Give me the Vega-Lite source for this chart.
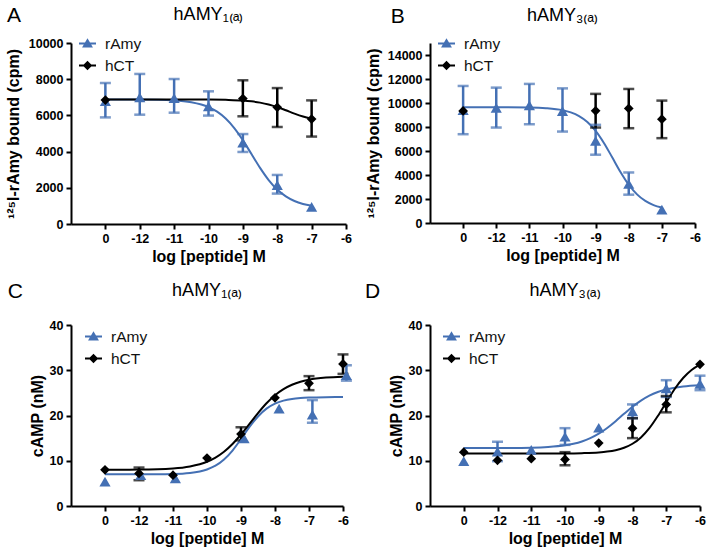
{
  "$schema": "https://vega.github.io/schema/vega-lite/v6.json",
  "padding": {"left": 5, "top": 5, "right": 5, "bottom": 0},
  "columns": 2,
  "spacing": {"row": 16, "column": 13},
  "resolve": {"scale": {"color": "independent", "shape": "independent"}, "legend": {"color": "independent", "shape": "independent"}},
  "config": {
    "font": "Liberation Sans",
    "view": {"stroke": null},
    "axis": {"domainColor": "black", "domainWidth": 2, "tickColor": "black", "tickWidth": 2, "tickSize": 5, "labelFont": "Liberation Sans", "labelFontWeight": "bold", "labelFontSize": 12.5, "labelColor": "black", "labelPadding": 3, "titleFont": "Liberation Sans", "titleFontWeight": "bold", "titleFontSize": 16, "titleColor": "black", "grid": false, "labelFlush": false, "labelOverlap": false},
    "axisX": {"labelExpr": "datum.value == -13 ? '0' : '-' + abs(datum.value)"},
    "axisY": {"format": "d"},
    "title": {"font": "Liberation Sans", "fontSize": 18, "fontWeight": "normal", "color": "black", "offset": -19},
    "legend": {"orient": "none", "title": null, "symbolSize": 289, "symbolOpacity": 1, "symbolStrokeWidth": 0, "labelFontSize": 15.5, "labelFont": "Liberation Sans", "labelColor": "#111", "rowPadding": 5, "labelOffset": 9, "padding": 0}
  },
  "datasets": {
    "pts": [
      {"p": "A", "s": "rAmy", "x": -13, "y": 6780, "lo": 5890, "hi": 7790},
      {"p": "A", "s": "rAmy", "x": -12, "y": 7000, "lo": 6040, "hi": 8290},
      {"p": "A", "s": "rAmy", "x": -11, "y": 6950, "lo": 6150, "hi": 8010},
      {"p": "A", "s": "rAmy", "x": -10, "y": 6500, "lo": 5990, "hi": 7330},
      {"p": "A", "s": "rAmy", "x": -9, "y": 4500, "lo": 3980, "hi": 4970},
      {"p": "A", "s": "rAmy", "x": -8, "y": 2150, "lo": 1680, "hi": 2710},
      {"p": "A", "s": "rAmy", "x": -7, "y": 950},
      {"p": "A", "s": "hCT", "x": -13, "y": 6850},
      {"p": "A", "s": "hCT", "x": -9, "y": 6930, "lo": 5950, "hi": 7940},
      {"p": "A", "s": "hCT", "x": -8, "y": 6450, "lo": 5360, "hi": 7510},
      {"p": "A", "s": "hCT", "x": -7, "y": 5800, "lo": 4830, "hi": 6830},
      {"p": "B", "s": "rAmy", "x": -13, "y": 9410, "lo": 7400, "hi": 11420},
      {"p": "B", "s": "rAmy", "x": -12, "y": 9600, "lo": 7955, "hi": 11280},
      {"p": "B", "s": "rAmy", "x": -11, "y": 9800, "lo": 8230, "hi": 11590},
      {"p": "B", "s": "rAmy", "x": -10, "y": 9330, "lo": 7620, "hi": 11220},
      {"p": "B", "s": "rAmy", "x": -9, "y": 6850, "lo": 5690, "hi": 8180},
      {"p": "B", "s": "rAmy", "x": -8, "y": 3250, "lo": 2360, "hi": 4210},
      {"p": "B", "s": "rAmy", "x": -7, "y": 1110},
      {"p": "B", "s": "hCT", "x": -13, "y": 9340},
      {"p": "B", "s": "hCT", "x": -9, "y": 9350, "lo": 7955, "hi": 10760},
      {"p": "B", "s": "hCT", "x": -8, "y": 9550, "lo": 7900, "hi": 11170},
      {"p": "B", "s": "hCT", "x": -7, "y": 8650, "lo": 7070, "hi": 10200},
      {"p": "C", "s": "rAmy", "x": -13, "y": 5.4},
      {"p": "C", "s": "rAmy", "x": -11.95, "y": 6.8},
      {"p": "C", "s": "rAmy", "x": -10.93, "y": 6.1},
      {"p": "C", "s": "rAmy", "x": -8.91, "y": 14.95},
      {"p": "C", "s": "rAmy", "x": -7.88, "y": 21.5},
      {"p": "C", "s": "rAmy", "x": -6.9, "y": 20.2, "lo": 18.4, "hi": 23.4},
      {"p": "C", "s": "rAmy", "x": -5.9, "y": 28.9, "lo": 27.7, "hi": 31.1},
      {"p": "C", "s": "hCT", "x": -13, "y": 8.0},
      {"p": "C", "s": "hCT", "x": -12, "y": 7.2, "lo": 5.7, "hi": 8.5},
      {"p": "C", "s": "hCT", "x": -11, "y": 6.8},
      {"p": "C", "s": "hCT", "x": -10, "y": 10.6},
      {"p": "C", "s": "hCT", "x": -9, "y": 15.9, "lo": 14.5, "hi": 17.4},
      {"p": "C", "s": "hCT", "x": -8, "y": 23.9},
      {"p": "C", "s": "hCT", "x": -7, "y": 27.1, "lo": 25.6, "hi": 28.7},
      {"p": "C", "s": "hCT", "x": -6, "y": 31.4, "lo": 29.2, "hi": 33.5},
      {"p": "D", "s": "rAmy", "x": -13, "y": 9.9},
      {"p": "D", "s": "rAmy", "x": -12, "y": 12.0, "lo": 9.9, "hi": 14.2},
      {"p": "D", "s": "rAmy", "x": -11, "y": 12.4},
      {"p": "D", "s": "rAmy", "x": -10, "y": 15.3, "lo": 13.5, "hi": 17.2},
      {"p": "D", "s": "rAmy", "x": -9, "y": 17.3},
      {"p": "D", "s": "rAmy", "x": -8, "y": 20.9, "lo": 19.4, "hi": 22.45},
      {"p": "D", "s": "rAmy", "x": -7, "y": 26.0, "lo": 24.1, "hi": 27.8},
      {"p": "D", "s": "rAmy", "x": -6, "y": 27.0, "lo": 25.6, "hi": 28.8},
      {"p": "D", "s": "hCT", "x": -13, "y": 11.9},
      {"p": "D", "s": "hCT", "x": -12, "y": 10.1},
      {"p": "D", "s": "hCT", "x": -11, "y": 10.45},
      {"p": "D", "s": "hCT", "x": -10, "y": 10.3, "lo": 9.0, "hi": 11.9},
      {"p": "D", "s": "hCT", "x": -9, "y": 13.9},
      {"p": "D", "s": "hCT", "x": -8, "y": 17.2, "lo": 15.0, "hi": 19.4},
      {"p": "D", "s": "hCT", "x": -7, "y": 22.45, "lo": 20.7, "hi": 24.3},
      {"p": "D", "s": "hCT", "x": -6, "y": 31.3}
    ],
    "crv": [
      {"p": "A", "s": "rAmy", "x": -13, "y": 6880}, {"p": "A", "s": "rAmy", "x": -12, "y": 6873}, {"p": "A", "s": "rAmy", "x": -11, "y": 6823}, {"p": "A", "s": "rAmy", "x": -10.5, "y": 6724}, {"p": "A", "s": "rAmy", "x": -10, "y": 6459}, {"p": "A", "s": "rAmy", "x": -9.75, "y": 6206}, {"p": "A", "s": "rAmy", "x": -9.5, "y": 5828}, {"p": "A", "s": "rAmy", "x": -9.25, "y": 5301}, {"p": "A", "s": "rAmy", "x": -9, "y": 4629}, {"p": "A", "s": "rAmy", "x": -8.75, "y": 3865}, {"p": "A", "s": "rAmy", "x": -8.5, "y": 3101}, {"p": "A", "s": "rAmy", "x": -8.25, "y": 2429}, {"p": "A", "s": "rAmy", "x": -8, "y": 1902}, {"p": "A", "s": "rAmy", "x": -7.75, "y": 1524}, {"p": "A", "s": "rAmy", "x": -7.5, "y": 1271}, {"p": "A", "s": "rAmy", "x": -7.25, "y": 1108}, {"p": "A", "s": "rAmy", "x": -7, "y": 1006},
      {"p": "A", "s": "hCT", "x": -13, "y": 6880}, {"p": "A", "s": "hCT", "x": -11, "y": 6879}, {"p": "A", "s": "hCT", "x": -10, "y": 6874}, {"p": "A", "s": "hCT", "x": -9.5, "y": 6860}, {"p": "A", "s": "hCT", "x": -9, "y": 6822}, {"p": "A", "s": "hCT", "x": -8.75, "y": 6776}, {"p": "A", "s": "hCT", "x": -8.5, "y": 6706}, {"p": "A", "s": "hCT", "x": -8.25, "y": 6601}, {"p": "A", "s": "hCT", "x": -8, "y": 6456}, {"p": "A", "s": "hCT", "x": -7.75, "y": 6282}, {"p": "A", "s": "hCT", "x": -7.5, "y": 6101}, {"p": "A", "s": "hCT", "x": -7.25, "y": 5943}, {"p": "A", "s": "hCT", "x": -7, "y": 5822},
      {"p": "B", "s": "rAmy", "x": -13, "y": 9650}, {"p": "B", "s": "rAmy", "x": -12, "y": 9647}, {"p": "B", "s": "rAmy", "x": -11, "y": 9625}, {"p": "B", "s": "rAmy", "x": -10.5, "y": 9570}, {"p": "B", "s": "rAmy", "x": -10, "y": 9402}, {"p": "B", "s": "rAmy", "x": -9.75, "y": 9218}, {"p": "B", "s": "rAmy", "x": -9.5, "y": 8912}, {"p": "B", "s": "rAmy", "x": -9.25, "y": 8419}, {"p": "B", "s": "rAmy", "x": -9, "y": 7680}, {"p": "B", "s": "rAmy", "x": -8.75, "y": 6673}, {"p": "B", "s": "rAmy", "x": -8.5, "y": 5475}, {"p": "B", "s": "rAmy", "x": -8.25, "y": 4252}, {"p": "B", "s": "rAmy", "x": -8, "y": 3189}, {"p": "B", "s": "rAmy", "x": -7.75, "y": 2384}, {"p": "B", "s": "rAmy", "x": -7.5, "y": 1837}, {"p": "B", "s": "rAmy", "x": -7.25, "y": 1491}, {"p": "B", "s": "rAmy", "x": -7, "y": 1284},
      {"p": "C", "s": "rAmy", "x": -13, "y": 7.0}, {"p": "C", "s": "rAmy", "x": -12, "y": 7.01}, {"p": "C", "s": "rAmy", "x": -11, "y": 7.09}, {"p": "C", "s": "rAmy", "x": -10.5, "y": 7.31}, {"p": "C", "s": "rAmy", "x": -10, "y": 8.07}, {"p": "C", "s": "rAmy", "x": -9.75, "y": 8.9}, {"p": "C", "s": "rAmy", "x": -9.5, "y": 10.27}, {"p": "C", "s": "rAmy", "x": -9.25, "y": 12.26}, {"p": "C", "s": "rAmy", "x": -9, "y": 14.79}, {"p": "C", "s": "rAmy", "x": -8.75, "y": 17.47}, {"p": "C", "s": "rAmy", "x": -8.5, "y": 19.79}, {"p": "C", "s": "rAmy", "x": -8.25, "y": 21.51}, {"p": "C", "s": "rAmy", "x": -8, "y": 22.62}, {"p": "C", "s": "rAmy", "x": -7.75, "y": 23.28}, {"p": "C", "s": "rAmy", "x": -7.5, "y": 23.66}, {"p": "C", "s": "rAmy", "x": -7.25, "y": 23.86}, {"p": "C", "s": "rAmy", "x": -7, "y": 23.97}, {"p": "C", "s": "rAmy", "x": -6.5, "y": 24.06}, {"p": "C", "s": "rAmy", "x": -6, "y": 24.08},
      {"p": "C", "s": "hCT", "x": -13, "y": 8.01}, {"p": "C", "s": "hCT", "x": -12, "y": 8.05}, {"p": "C", "s": "hCT", "x": -11, "y": 8.3}, {"p": "C", "s": "hCT", "x": -10.5, "y": 8.74}, {"p": "C", "s": "hCT", "x": -10, "y": 9.77}, {"p": "C", "s": "hCT", "x": -9.75, "y": 10.69}, {"p": "C", "s": "hCT", "x": -9.5, "y": 11.97}, {"p": "C", "s": "hCT", "x": -9.25, "y": 13.69}, {"p": "C", "s": "hCT", "x": -9, "y": 15.8}, {"p": "C", "s": "hCT", "x": -8.75, "y": 18.16}, {"p": "C", "s": "hCT", "x": -8.5, "y": 20.53}, {"p": "C", "s": "hCT", "x": -8.25, "y": 22.7}, {"p": "C", "s": "hCT", "x": -8, "y": 24.48}, {"p": "C", "s": "hCT", "x": -7.75, "y": 25.83}, {"p": "C", "s": "hCT", "x": -7.5, "y": 26.8}, {"p": "C", "s": "hCT", "x": -7.25, "y": 27.47}, {"p": "C", "s": "hCT", "x": -7, "y": 27.91}, {"p": "C", "s": "hCT", "x": -6.5, "y": 28.38}, {"p": "C", "s": "hCT", "x": -6, "y": 28.57},
      {"p": "D", "s": "rAmy", "x": -13, "y": 12.8}, {"p": "D", "s": "rAmy", "x": -12, "y": 12.82}, {"p": "D", "s": "rAmy", "x": -11, "y": 12.9}, {"p": "D", "s": "rAmy", "x": -10.5, "y": 13.05}, {"p": "D", "s": "rAmy", "x": -10, "y": 13.42}, {"p": "D", "s": "rAmy", "x": -9.75, "y": 13.76}, {"p": "D", "s": "rAmy", "x": -9.5, "y": 14.26}, {"p": "D", "s": "rAmy", "x": -9.25, "y": 14.99}, {"p": "D", "s": "rAmy", "x": -9, "y": 15.98}, {"p": "D", "s": "rAmy", "x": -8.75, "y": 17.25}, {"p": "D", "s": "rAmy", "x": -8.5, "y": 18.75}, {"p": "D", "s": "rAmy", "x": -8.25, "y": 20.37}, {"p": "D", "s": "rAmy", "x": -8, "y": 21.93}, {"p": "D", "s": "rAmy", "x": -7.75, "y": 23.29}, {"p": "D", "s": "rAmy", "x": -7.5, "y": 24.39}, {"p": "D", "s": "rAmy", "x": -7.25, "y": 25.2}, {"p": "D", "s": "rAmy", "x": -7, "y": 25.78}, {"p": "D", "s": "rAmy", "x": -6.5, "y": 26.43}, {"p": "D", "s": "rAmy", "x": -6, "y": 26.71},
      {"p": "D", "s": "hCT", "x": -13, "y": 11.6}, {"p": "D", "s": "hCT", "x": -11, "y": 11.6}, {"p": "D", "s": "hCT", "x": -10, "y": 11.62}, {"p": "D", "s": "hCT", "x": -9.5, "y": 11.68}, {"p": "D", "s": "hCT", "x": -9, "y": 11.84}, {"p": "D", "s": "hCT", "x": -8.75, "y": 12.02}, {"p": "D", "s": "hCT", "x": -8.5, "y": 12.33}, {"p": "D", "s": "hCT", "x": -8.25, "y": 12.87}, {"p": "D", "s": "hCT", "x": -8, "y": 13.76}, {"p": "D", "s": "hCT", "x": -7.75, "y": 15.16}, {"p": "D", "s": "hCT", "x": -7.5, "y": 17.2}, {"p": "D", "s": "hCT", "x": -7.25, "y": 19.88}, {"p": "D", "s": "hCT", "x": -7, "y": 22.92}, {"p": "D", "s": "hCT", "x": -6.75, "y": 25.86}, {"p": "D", "s": "hCT", "x": -6.5, "y": 28.29}, {"p": "D", "s": "hCT", "x": -6.25, "y": 30.07}, {"p": "D", "s": "hCT", "x": -6, "y": 31.25}
    ]
  },
  "concat": [
    {
      "width": 275, "height": 181,
      "title": "hAMY₁₍ₐ₎",
      "layer": [
        {"data": {"name": "crv"}, "transform": [{"filter": "datum.p === 'A'"}], "mark": {"type": "line", "strokeWidth": 2, "interpolate": "monotone"}, "encoding": {
          "x": {"field": "x", "type": "quantitative", "scale": {"domain": [-14, -6], "nice": false, "zero": false}, "axis": {"values": [-13, -12, -11, -10, -9, -8, -7, -6]}, "title": "log [peptide] M"},
          "y": {"field": "y", "type": "quantitative", "scale": {"domain": [0, 10000], "nice": false}, "axis": {"values": [0, 2000, 4000, 6000, 8000, 10000], "titlePadding": 7}, "title": "¹²⁵I-rAmy bound (cpm)"},
          "detail": {"field": "s"}, "color": {"condition": {"test": "datum.s === 'rAmy'", "value": "#4470b4"}, "value": "black"}}},
        {"data": {"name": "pts"}, "transform": [{"filter": "datum.p === 'A' && isValid(datum.lo)"}], "mark": {"type": "rule", "strokeWidth": 2.5}, "encoding": {
          "x": {"field": "x", "type": "quantitative", "scale": {"domain": [-14, -6], "nice": false, "zero": false}, "axis": {"values": [-13, -12, -11, -10, -9, -8, -7, -6]}, "title": "log [peptide] M"},
          "y": {"field": "lo", "type": "quantitative", "scale": {"domain": [0, 10000], "nice": false}, "axis": {"values": [0, 2000, 4000, 6000, 8000, 10000], "titlePadding": 7}, "title": "¹²⁵I-rAmy bound (cpm)"}, "y2": {"field": "hi"},
          "color": {"condition": {"test": "datum.s === 'rAmy'", "value": "#4470b4"}, "value": "black"}}},
        {"data": {"name": "pts"}, "transform": [{"filter": "datum.p === 'A' && isValid(datum.lo)"}], "mark": {"type": "tick", "orient": "horizontal", "size": 11, "thickness": 2.5}, "encoding": {
          "x": {"field": "x", "type": "quantitative", "scale": {"domain": [-14, -6], "nice": false, "zero": false}, "axis": {"values": [-13, -12, -11, -10, -9, -8, -7, -6]}, "title": "log [peptide] M"},
          "y": {"field": "lo", "type": "quantitative", "scale": {"domain": [0, 10000], "nice": false}, "axis": {"values": [0, 2000, 4000, 6000, 8000, 10000], "titlePadding": 7}, "title": "¹²⁵I-rAmy bound (cpm)"},
          "color": {"condition": {"test": "datum.s === 'rAmy'", "value": "#4470b4"}, "value": "black"}}},
        {"data": {"name": "pts"}, "transform": [{"filter": "datum.p === 'A' && isValid(datum.lo)"}], "mark": {"type": "tick", "orient": "horizontal", "size": 11, "thickness": 2.5}, "encoding": {
          "x": {"field": "x", "type": "quantitative", "scale": {"domain": [-14, -6], "nice": false, "zero": false}, "axis": {"values": [-13, -12, -11, -10, -9, -8, -7, -6]}, "title": "log [peptide] M"},
          "y": {"field": "hi", "type": "quantitative", "scale": {"domain": [0, 10000], "nice": false}, "axis": {"values": [0, 2000, 4000, 6000, 8000, 10000], "titlePadding": 7}, "title": "¹²⁵I-rAmy bound (cpm)"},
          "color": {"condition": {"test": "datum.s === 'rAmy'", "value": "#4470b4"}, "value": "black"}}},
        {"data": {"name": "pts"}, "transform": [{"filter": "datum.p === 'A'"}], "mark": {"type": "point", "filled": true, "opacity": 1, "strokeWidth": 0}, "encoding": {
          "x": {"field": "x", "type": "quantitative", "scale": {"domain": [-14, -6], "nice": false, "zero": false}, "axis": {"values": [-13, -12, -11, -10, -9, -8, -7, -6]}, "title": "log [peptide] M"},
          "y": {"field": "y", "type": "quantitative", "scale": {"domain": [0, 10000], "nice": false}, "axis": {"values": [0, 2000, 4000, 6000, 8000, 10000], "titlePadding": 7}, "title": "¹²⁵I-rAmy bound (cpm)"},
          "color": {"condition": {"test": "datum.s === 'rAmy'", "value": "#4470b4"}, "value": "black"}, "shape": {"condition": {"test": "datum.s === 'rAmy'", "value": "triangle-up"}, "value": "diamond"}, "size": {"condition": {"test": "datum.s === 'rAmy'", "value": 125}, "value": 95}}},
        {"data": {"name": "pts"}, "transform": [{"filter": "datum.p === 'A'"}], "mark": {"type": "point", "filled": true, "opacity": 0}, "encoding": {
          "x": {"field": "x", "type": "quantitative", "scale": {"domain": [-14, -6], "nice": false, "zero": false}, "axis": {"values": [-13, -12, -11, -10, -9, -8, -7, -6]}, "title": "log [peptide] M"},
          "y": {"field": "y", "type": "quantitative", "scale": {"domain": [0, 10000], "nice": false}, "axis": {"values": [0, 2000, 4000, 6000, 8000, 10000], "titlePadding": 7}, "title": "¹²⁵I-rAmy bound (cpm)"},
          "color": {"field": "s", "type": "nominal", "scale": {"domain": ["rAmy", "hCT"], "range": ["#4470b4", "black"]}, "legend": {"legendX": 8, "legendY": -8}},
          "shape": {"field": "s", "type": "nominal", "scale": {"domain": ["rAmy", "hCT"], "range": ["M-1,-0.12H1V0.12H-1Z M0,-0.62L0.64,0.46L-0.64,0.46Z", "M-1,-0.12H1V0.12H-1Z M0,-0.56L0.56,0L0,0.56L-0.56,0Z"]}, "legend": {"legendX": 8, "legendY": -8}}}},
        {"data": {"values": [{"label": "A"}]}, "mark": {"type": "text", "fontSize": 21, "font": "Liberation Sans", "color": "black", "align": "center", "baseline": "middle"}, "encoding": {
          "x": {"datum": -15.66, "type": "quantitative", "scale": {"domain": [-14, -6], "nice": false, "zero": false}, "axis": {"values": [-13, -12, -11, -10, -9, -8, -7, -6]}, "title": "log [peptide] M"},
          "y": {"datum": 11475, "type": "quantitative", "scale": {"domain": [0, 10000], "nice": false}, "axis": {"values": [0, 2000, 4000, 6000, 8000, 10000], "titlePadding": 7}, "title": "¹²⁵I-rAmy bound (cpm)"},
          "text": {"field": "label", "type": "nominal"}}}
      ]
    },
    {
      "width": 265, "height": 180,
      "title": "hAMY₃₍ₐ₎",
      "layer": [
        {"data": {"name": "crv"}, "transform": [{"filter": "datum.p === 'B'"}], "mark": {"type": "line", "strokeWidth": 2, "interpolate": "monotone"}, "encoding": {
          "x": {"field": "x", "type": "quantitative", "scale": {"domain": [-14, -6], "nice": false, "zero": false}, "axis": {"values": [-13, -12, -11, -10, -9, -8, -7, -6]}, "title": "log [peptide] M"},
          "y": {"field": "y", "type": "quantitative", "scale": {"domain": [0, 15000], "nice": false}, "axis": {"values": [0, 2000, 4000, 6000, 8000, 10000, 12000, 14000], "titlePadding": 6}, "title": "¹²⁵I-rAmy bound (cpm)"},
          "detail": {"field": "s"}, "color": {"condition": {"test": "datum.s === 'rAmy'", "value": "#4470b4"}, "value": "black"}}},
        {"data": {"name": "pts"}, "transform": [{"filter": "datum.p === 'B' && isValid(datum.lo)"}], "mark": {"type": "rule", "strokeWidth": 2.5}, "encoding": {
          "x": {"field": "x", "type": "quantitative", "scale": {"domain": [-14, -6], "nice": false, "zero": false}, "axis": {"values": [-13, -12, -11, -10, -9, -8, -7, -6]}, "title": "log [peptide] M"},
          "y": {"field": "lo", "type": "quantitative", "scale": {"domain": [0, 15000], "nice": false}, "axis": {"values": [0, 2000, 4000, 6000, 8000, 10000, 12000, 14000], "titlePadding": 6}, "title": "¹²⁵I-rAmy bound (cpm)"}, "y2": {"field": "hi"},
          "color": {"condition": {"test": "datum.s === 'rAmy'", "value": "#4470b4"}, "value": "black"}}},
        {"data": {"name": "pts"}, "transform": [{"filter": "datum.p === 'B' && isValid(datum.lo)"}], "mark": {"type": "tick", "orient": "horizontal", "size": 11, "thickness": 2.5}, "encoding": {
          "x": {"field": "x", "type": "quantitative", "scale": {"domain": [-14, -6], "nice": false, "zero": false}, "axis": {"values": [-13, -12, -11, -10, -9, -8, -7, -6]}, "title": "log [peptide] M"},
          "y": {"field": "lo", "type": "quantitative", "scale": {"domain": [0, 15000], "nice": false}, "axis": {"values": [0, 2000, 4000, 6000, 8000, 10000, 12000, 14000], "titlePadding": 6}, "title": "¹²⁵I-rAmy bound (cpm)"},
          "color": {"condition": {"test": "datum.s === 'rAmy'", "value": "#4470b4"}, "value": "black"}}},
        {"data": {"name": "pts"}, "transform": [{"filter": "datum.p === 'B' && isValid(datum.lo)"}], "mark": {"type": "tick", "orient": "horizontal", "size": 11, "thickness": 2.5}, "encoding": {
          "x": {"field": "x", "type": "quantitative", "scale": {"domain": [-14, -6], "nice": false, "zero": false}, "axis": {"values": [-13, -12, -11, -10, -9, -8, -7, -6]}, "title": "log [peptide] M"},
          "y": {"field": "hi", "type": "quantitative", "scale": {"domain": [0, 15000], "nice": false}, "axis": {"values": [0, 2000, 4000, 6000, 8000, 10000, 12000, 14000], "titlePadding": 6}, "title": "¹²⁵I-rAmy bound (cpm)"},
          "color": {"condition": {"test": "datum.s === 'rAmy'", "value": "#4470b4"}, "value": "black"}}},
        {"data": {"name": "pts"}, "transform": [{"filter": "datum.p === 'B'"}], "mark": {"type": "point", "filled": true, "opacity": 1, "strokeWidth": 0}, "encoding": {
          "x": {"field": "x", "type": "quantitative", "scale": {"domain": [-14, -6], "nice": false, "zero": false}, "axis": {"values": [-13, -12, -11, -10, -9, -8, -7, -6]}, "title": "log [peptide] M"},
          "y": {"field": "y", "type": "quantitative", "scale": {"domain": [0, 15000], "nice": false}, "axis": {"values": [0, 2000, 4000, 6000, 8000, 10000, 12000, 14000], "titlePadding": 6}, "title": "¹²⁵I-rAmy bound (cpm)"},
          "color": {"condition": {"test": "datum.s === 'rAmy'", "value": "#4470b4"}, "value": "black"}, "shape": {"condition": {"test": "datum.s === 'rAmy'", "value": "triangle-up"}, "value": "diamond"}, "size": {"condition": {"test": "datum.s === 'rAmy'", "value": 125}, "value": 95}}},
        {"data": {"name": "pts"}, "transform": [{"filter": "datum.p === 'B'"}], "mark": {"type": "point", "filled": true, "opacity": 0}, "encoding": {
          "x": {"field": "x", "type": "quantitative", "scale": {"domain": [-14, -6], "nice": false, "zero": false}, "axis": {"values": [-13, -12, -11, -10, -9, -8, -7, -6]}, "title": "log [peptide] M"},
          "y": {"field": "y", "type": "quantitative", "scale": {"domain": [0, 15000], "nice": false}, "axis": {"values": [0, 2000, 4000, 6000, 8000, 10000, 12000, 14000], "titlePadding": 6}, "title": "¹²⁵I-rAmy bound (cpm)"},
          "color": {"field": "s", "type": "nominal", "scale": {"domain": ["rAmy", "hCT"], "range": ["#4470b4", "black"]}, "legend": {"legendX": 8, "legendY": -8}},
          "shape": {"field": "s", "type": "nominal", "scale": {"domain": ["rAmy", "hCT"], "range": ["M-1,-0.12H1V0.12H-1Z M0,-0.62L0.64,0.46L-0.64,0.46Z", "M-1,-0.12H1V0.12H-1Z M0,-0.56L0.56,0L0,0.56L-0.56,0Z"]}, "legend": {"legendX": 8, "legendY": -8}}}},
        {"data": {"values": [{"label": "B"}]}, "mark": {"type": "text", "fontSize": 21, "font": "Liberation Sans", "color": "black", "align": "center", "baseline": "middle"}, "encoding": {
          "x": {"datum": -14.97, "type": "quantitative", "scale": {"domain": [-14, -6], "nice": false, "zero": false}, "axis": {"values": [-13, -12, -11, -10, -9, -8, -7, -6]}, "title": "log [peptide] M"},
          "y": {"datum": 17180, "type": "quantitative", "scale": {"domain": [0, 15000], "nice": false}, "axis": {"values": [0, 2000, 4000, 6000, 8000, 10000, 12000, 14000], "titlePadding": 6}, "title": "¹²⁵I-rAmy bound (cpm)"},
          "text": {"field": "label", "type": "nominal"}}}
      ]
    },
    {
      "width": 272, "height": 181,
      "title": "hAMY₁₍ₐ₎",
      "layer": [
        {"data": {"name": "crv"}, "transform": [{"filter": "datum.p === 'C'"}], "mark": {"type": "line", "strokeWidth": 2, "interpolate": "monotone"}, "encoding": {
          "x": {"field": "x", "type": "quantitative", "scale": {"domain": [-14, -6], "nice": false, "zero": false}, "axis": {"values": [-13, -12, -11, -10, -9, -8, -7, -6]}, "title": "log [peptide] M"},
          "y": {"field": "y", "type": "quantitative", "scale": {"domain": [0, 40], "nice": false}, "axis": {"values": [0, 10, 20, 30, 40], "titlePadding": 4}, "title": "cAMP (nM)"},
          "detail": {"field": "s"}, "color": {"condition": {"test": "datum.s === 'rAmy'", "value": "#4470b4"}, "value": "black"}}},
        {"data": {"name": "pts"}, "transform": [{"filter": "datum.p === 'C' && isValid(datum.lo)"}], "mark": {"type": "rule", "strokeWidth": 2.5}, "encoding": {
          "x": {"field": "x", "type": "quantitative", "scale": {"domain": [-14, -6], "nice": false, "zero": false}, "axis": {"values": [-13, -12, -11, -10, -9, -8, -7, -6]}, "title": "log [peptide] M"},
          "y": {"field": "lo", "type": "quantitative", "scale": {"domain": [0, 40], "nice": false}, "axis": {"values": [0, 10, 20, 30, 40], "titlePadding": 4}, "title": "cAMP (nM)"}, "y2": {"field": "hi"},
          "color": {"condition": {"test": "datum.s === 'rAmy'", "value": "#4470b4"}, "value": "black"}}},
        {"data": {"name": "pts"}, "transform": [{"filter": "datum.p === 'C' && isValid(datum.lo)"}], "mark": {"type": "tick", "orient": "horizontal", "size": 11, "thickness": 2.5}, "encoding": {
          "x": {"field": "x", "type": "quantitative", "scale": {"domain": [-14, -6], "nice": false, "zero": false}, "axis": {"values": [-13, -12, -11, -10, -9, -8, -7, -6]}, "title": "log [peptide] M"},
          "y": {"field": "lo", "type": "quantitative", "scale": {"domain": [0, 40], "nice": false}, "axis": {"values": [0, 10, 20, 30, 40], "titlePadding": 4}, "title": "cAMP (nM)"},
          "color": {"condition": {"test": "datum.s === 'rAmy'", "value": "#4470b4"}, "value": "black"}}},
        {"data": {"name": "pts"}, "transform": [{"filter": "datum.p === 'C' && isValid(datum.lo)"}], "mark": {"type": "tick", "orient": "horizontal", "size": 11, "thickness": 2.5}, "encoding": {
          "x": {"field": "x", "type": "quantitative", "scale": {"domain": [-14, -6], "nice": false, "zero": false}, "axis": {"values": [-13, -12, -11, -10, -9, -8, -7, -6]}, "title": "log [peptide] M"},
          "y": {"field": "hi", "type": "quantitative", "scale": {"domain": [0, 40], "nice": false}, "axis": {"values": [0, 10, 20, 30, 40], "titlePadding": 4}, "title": "cAMP (nM)"},
          "color": {"condition": {"test": "datum.s === 'rAmy'", "value": "#4470b4"}, "value": "black"}}},
        {"data": {"name": "pts"}, "transform": [{"filter": "datum.p === 'C'"}], "mark": {"type": "point", "filled": true, "opacity": 1, "strokeWidth": 0}, "encoding": {
          "x": {"field": "x", "type": "quantitative", "scale": {"domain": [-14, -6], "nice": false, "zero": false}, "axis": {"values": [-13, -12, -11, -10, -9, -8, -7, -6]}, "title": "log [peptide] M"},
          "y": {"field": "y", "type": "quantitative", "scale": {"domain": [0, 40], "nice": false}, "axis": {"values": [0, 10, 20, 30, 40], "titlePadding": 4}, "title": "cAMP (nM)"},
          "color": {"condition": {"test": "datum.s === 'rAmy'", "value": "#4470b4"}, "value": "black"}, "shape": {"condition": {"test": "datum.s === 'rAmy'", "value": "triangle-up"}, "value": "diamond"}, "size": {"condition": {"test": "datum.s === 'rAmy'", "value": 125}, "value": 95}}},
        {"data": {"name": "pts"}, "transform": [{"filter": "datum.p === 'C'"}], "mark": {"type": "point", "filled": true, "opacity": 0}, "encoding": {
          "x": {"field": "x", "type": "quantitative", "scale": {"domain": [-14, -6], "nice": false, "zero": false}, "axis": {"values": [-13, -12, -11, -10, -9, -8, -7, -6]}, "title": "log [peptide] M"},
          "y": {"field": "y", "type": "quantitative", "scale": {"domain": [0, 40], "nice": false}, "axis": {"values": [0, 10, 20, 30, 40], "titlePadding": 4}, "title": "cAMP (nM)"},
          "color": {"field": "s", "type": "nominal", "scale": {"domain": ["rAmy", "hCT"], "range": ["#4470b4", "black"]}, "legend": {"legendX": 14, "legendY": 3}},
          "shape": {"field": "s", "type": "nominal", "scale": {"domain": ["rAmy", "hCT"], "range": ["M-1,-0.12H1V0.12H-1Z M0,-0.62L0.64,0.46L-0.64,0.46Z", "M-1,-0.12H1V0.12H-1Z M0,-0.56L0.56,0L0,0.56L-0.56,0Z"]}, "legend": {"legendX": 14, "legendY": 3}}}},
        {"data": {"values": [{"label": "C"}]}, "mark": {"type": "text", "fontSize": 21, "font": "Liberation Sans", "color": "black", "align": "center", "baseline": "middle"}, "encoding": {
          "x": {"datum": -15.64, "type": "quantitative", "scale": {"domain": [-14, -6], "nice": false, "zero": false}, "axis": {"values": [-13, -12, -11, -10, -9, -8, -7, -6]}, "title": "log [peptide] M"},
          "y": {"datum": 47.2, "type": "quantitative", "scale": {"domain": [0, 40], "nice": false}, "axis": {"values": [0, 10, 20, 30, 40], "titlePadding": 4}, "title": "cAMP (nM)"},
          "text": {"field": "label", "type": "nominal"}}}
      ]
    },
    {
      "width": 270, "height": 181,
      "title": "hAMY₃₍ₐ₎",
      "layer": [
        {"data": {"name": "crv"}, "transform": [{"filter": "datum.p === 'D'"}], "mark": {"type": "line", "strokeWidth": 2, "interpolate": "monotone"}, "encoding": {
          "x": {"field": "x", "type": "quantitative", "scale": {"domain": [-14, -6], "nice": false, "zero": false}, "axis": {"values": [-13, -12, -11, -10, -9, -8, -7, -6]}, "title": "log [peptide] M"},
          "y": {"field": "y", "type": "quantitative", "scale": {"domain": [0, 40], "nice": false}, "axis": {"values": [0, 10, 20, 30, 40], "titlePadding": 4}, "title": "cAMP (nM)"},
          "detail": {"field": "s"}, "color": {"condition": {"test": "datum.s === 'rAmy'", "value": "#4470b4"}, "value": "black"}}},
        {"data": {"name": "pts"}, "transform": [{"filter": "datum.p === 'D' && isValid(datum.lo)"}], "mark": {"type": "rule", "strokeWidth": 2.5}, "encoding": {
          "x": {"field": "x", "type": "quantitative", "scale": {"domain": [-14, -6], "nice": false, "zero": false}, "axis": {"values": [-13, -12, -11, -10, -9, -8, -7, -6]}, "title": "log [peptide] M"},
          "y": {"field": "lo", "type": "quantitative", "scale": {"domain": [0, 40], "nice": false}, "axis": {"values": [0, 10, 20, 30, 40], "titlePadding": 4}, "title": "cAMP (nM)"}, "y2": {"field": "hi"},
          "color": {"condition": {"test": "datum.s === 'rAmy'", "value": "#4470b4"}, "value": "black"}}},
        {"data": {"name": "pts"}, "transform": [{"filter": "datum.p === 'D' && isValid(datum.lo)"}], "mark": {"type": "tick", "orient": "horizontal", "size": 11, "thickness": 2.5}, "encoding": {
          "x": {"field": "x", "type": "quantitative", "scale": {"domain": [-14, -6], "nice": false, "zero": false}, "axis": {"values": [-13, -12, -11, -10, -9, -8, -7, -6]}, "title": "log [peptide] M"},
          "y": {"field": "lo", "type": "quantitative", "scale": {"domain": [0, 40], "nice": false}, "axis": {"values": [0, 10, 20, 30, 40], "titlePadding": 4}, "title": "cAMP (nM)"},
          "color": {"condition": {"test": "datum.s === 'rAmy'", "value": "#4470b4"}, "value": "black"}}},
        {"data": {"name": "pts"}, "transform": [{"filter": "datum.p === 'D' && isValid(datum.lo)"}], "mark": {"type": "tick", "orient": "horizontal", "size": 11, "thickness": 2.5}, "encoding": {
          "x": {"field": "x", "type": "quantitative", "scale": {"domain": [-14, -6], "nice": false, "zero": false}, "axis": {"values": [-13, -12, -11, -10, -9, -8, -7, -6]}, "title": "log [peptide] M"},
          "y": {"field": "hi", "type": "quantitative", "scale": {"domain": [0, 40], "nice": false}, "axis": {"values": [0, 10, 20, 30, 40], "titlePadding": 4}, "title": "cAMP (nM)"},
          "color": {"condition": {"test": "datum.s === 'rAmy'", "value": "#4470b4"}, "value": "black"}}},
        {"data": {"name": "pts"}, "transform": [{"filter": "datum.p === 'D'"}], "mark": {"type": "point", "filled": true, "opacity": 1, "strokeWidth": 0}, "encoding": {
          "x": {"field": "x", "type": "quantitative", "scale": {"domain": [-14, -6], "nice": false, "zero": false}, "axis": {"values": [-13, -12, -11, -10, -9, -8, -7, -6]}, "title": "log [peptide] M"},
          "y": {"field": "y", "type": "quantitative", "scale": {"domain": [0, 40], "nice": false}, "axis": {"values": [0, 10, 20, 30, 40], "titlePadding": 4}, "title": "cAMP (nM)"},
          "color": {"condition": {"test": "datum.s === 'rAmy'", "value": "#4470b4"}, "value": "black"}, "shape": {"condition": {"test": "datum.s === 'rAmy'", "value": "triangle-up"}, "value": "diamond"}, "size": {"condition": {"test": "datum.s === 'rAmy'", "value": 125}, "value": 95}}},
        {"data": {"name": "pts"}, "transform": [{"filter": "datum.p === 'D'"}], "mark": {"type": "point", "filled": true, "opacity": 0}, "encoding": {
          "x": {"field": "x", "type": "quantitative", "scale": {"domain": [-14, -6], "nice": false, "zero": false}, "axis": {"values": [-13, -12, -11, -10, -9, -8, -7, -6]}, "title": "log [peptide] M"},
          "y": {"field": "y", "type": "quantitative", "scale": {"domain": [0, 40], "nice": false}, "axis": {"values": [0, 10, 20, 30, 40], "titlePadding": 4}, "title": "cAMP (nM)"},
          "color": {"field": "s", "type": "nominal", "scale": {"domain": ["rAmy", "hCT"], "range": ["#4470b4", "black"]}, "legend": {"legendX": 13, "legendY": 3}},
          "shape": {"field": "s", "type": "nominal", "scale": {"domain": ["rAmy", "hCT"], "range": ["M-1,-0.12H1V0.12H-1Z M0,-0.62L0.64,0.46L-0.64,0.46Z", "M-1,-0.12H1V0.12H-1Z M0,-0.56L0.56,0L0,0.56L-0.56,0Z"]}, "legend": {"legendX": 13, "legendY": 3}}}},
        {"data": {"values": [{"label": "D"}]}, "mark": {"type": "text", "fontSize": 21, "font": "Liberation Sans", "color": "black", "align": "center", "baseline": "middle"}, "encoding": {
          "x": {"datum": -15.7, "type": "quantitative", "scale": {"domain": [-14, -6], "nice": false, "zero": false}, "axis": {"values": [-13, -12, -11, -10, -9, -8, -7, -6]}, "title": "log [peptide] M"},
          "y": {"datum": 47.2, "type": "quantitative", "scale": {"domain": [0, 40], "nice": false}, "axis": {"values": [0, 10, 20, 30, 40], "titlePadding": 4}, "title": "cAMP (nM)"},
          "text": {"field": "label", "type": "nominal"}}}
      ]
    }
  ]
}
